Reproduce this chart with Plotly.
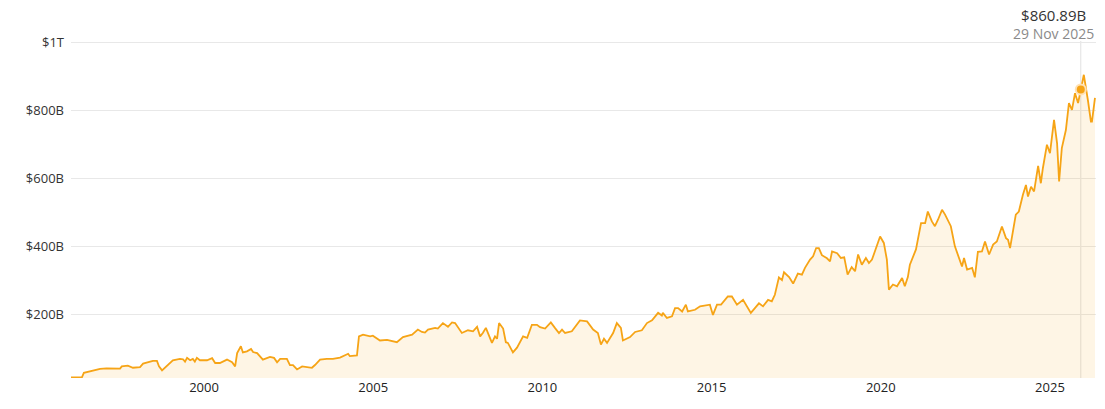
import plotly.graph_objects as go

# Decimal years and market cap (billions USD)
years = [
    1996.07, 1996.39, 1996.45, 1996.83, 1996.93, 1997.12, 1997.31, 1997.52, 1997.57, 1997.75,
    1997.90, 1998.11, 1998.20, 1998.35, 1998.49, 1998.61, 1998.67, 1998.76, 1998.91, 1999.08,
    1999.29, 1999.38, 1999.44, 1999.50, 1999.59, 1999.67, 1999.73, 1999.79, 1999.88, 2000.09,
    2000.24, 2000.33, 2000.47, 2000.68, 2000.83, 2000.92, 2000.98, 2001.09, 2001.15, 2001.27,
    2001.39, 2001.45, 2001.57, 2001.74, 2001.95, 2002.07, 2002.16, 2002.25, 2002.45, 2002.54,
    2002.63, 2002.75, 2002.90, 2003.04, 2003.19, 2003.28, 2003.43, 2003.63, 2003.81, 2004.02,
    2004.17, 2004.26, 2004.31, 2004.46, 2004.52, 2004.58, 2004.70, 2004.91, 2004.99, 2005.20,
    2005.41, 2005.70, 2005.88, 2006.15, 2006.32, 2006.44, 2006.53, 2006.62, 2006.83, 2006.91,
    2007.06, 2007.21, 2007.33, 2007.42, 2007.62, 2007.80, 2007.95, 2008.07, 2008.16, 2008.24,
    2008.33, 2008.51, 2008.60, 2008.66, 2008.72, 2008.84, 2008.92, 2008.98, 2009.13, 2009.25,
    2009.43, 2009.55, 2009.69, 2009.84, 2009.93, 2010.08, 2010.25, 2010.37, 2010.49, 2010.58,
    2010.67, 2010.87, 2011.11, 2011.32, 2011.50, 2011.64, 2011.73, 2011.82, 2011.91, 2012.09,
    2012.20, 2012.32, 2012.38, 2012.59, 2012.74, 2012.94, 2013.09, 2013.24, 2013.33, 2013.42,
    2013.53, 2013.56, 2013.68, 2013.83, 2013.92, 2014.01, 2014.13, 2014.24, 2014.30, 2014.51,
    2014.66, 2014.95, 2015.04, 2015.16, 2015.28, 2015.48, 2015.60, 2015.75, 2015.93, 2016.16,
    2016.28, 2016.40, 2016.52, 2016.67, 2016.78, 2016.87, 2016.99, 2017.08, 2017.14, 2017.29,
    2017.41, 2017.55, 2017.67, 2017.76, 2017.91, 2018.00, 2018.09, 2018.17, 2018.26, 2018.41,
    2018.50, 2018.56, 2018.71, 2018.82, 2018.92, 2019.02, 2019.14, 2019.24, 2019.33, 2019.44,
    2019.56, 2019.65, 2019.74, 2019.98, 2020.09, 2020.18, 2020.24, 2020.36, 2020.48, 2020.63,
    2020.71, 2020.80, 2020.86, 2020.95, 2021.04, 2021.10, 2021.19, 2021.31, 2021.39, 2021.51,
    2021.60, 2021.69, 2021.81, 2021.90, 2021.99, 2022.07, 2022.19, 2022.28, 2022.40, 2022.46,
    2022.55, 2022.70, 2022.78, 2022.87, 2022.99, 2023.08, 2023.20, 2023.32, 2023.43, 2023.58,
    2023.70, 2023.76, 2023.82, 2023.99, 2024.08, 2024.20, 2024.29, 2024.35, 2024.44, 2024.53,
    2024.65, 2024.73, 2024.79, 2024.91, 2025.00, 2025.12, 2025.21, 2025.27, 2025.35, 2025.47,
    2025.56, 2025.65, 2025.74, 2025.83, 2025.91, 2026.00, 2026.12, 2026.21, 2026.24, 2026.33,
]
market_cap_b = [
    16.5, 16.5, 30, 40, 41.6, 43, 42, 42.5, 49, 51,
    45, 47, 57, 61, 65, 65, 49, 37.5, 51, 67,
    71, 70, 63, 74, 67, 71, 63, 74, 67, 67,
    73, 59, 59, 69, 61, 49, 88, 108, 90, 93,
    100, 91, 88, 69, 77, 74, 61, 71, 71, 53,
    53, 40, 49, 46, 45, 53, 69, 71, 71, 75,
    83, 86, 79, 79, 81, 137, 142, 137, 139, 125,
    127, 120, 135, 142, 157, 150, 148, 157, 162, 160,
    176, 165, 178, 176, 147, 155, 152, 165, 137, 147,
    162, 118, 137, 130, 176, 160, 120, 118, 90, 104,
    137, 133, 171, 171, 164, 160, 178, 162, 147, 157,
    147, 152, 184, 181, 157, 147, 113, 130, 118, 147,
    176, 162, 125, 135, 150, 155, 176, 184, 196, 206,
    198, 206, 191, 196, 220, 220, 210, 230, 210, 215,
    225, 230, 200, 230, 230, 254, 254, 230, 244, 206,
    220, 234, 225, 244, 240, 259, 310, 302, 325, 311,
    292, 321, 318, 338, 362, 372, 396, 396, 375, 366,
    357, 386, 381, 367, 369, 318, 340, 328, 377, 347,
    367, 352, 362, 430, 411, 362, 274, 289, 284, 308,
    284, 311, 347, 367, 392, 423, 469, 469, 503, 474,
    460, 479, 508, 494, 474, 460, 401, 377, 342, 367,
    333, 338, 310, 385, 386, 415, 377, 406, 415, 459,
    425, 420, 396, 494, 503, 552, 581, 547, 576, 562,
    637, 586, 630, 699, 674, 772, 703, 591, 689, 742,
    821, 801, 850, 821, 860.89, 904, 830, 767, 767, 836,
]

y_tick_vals = [200, 400, 600, 800, 1000]
y_tick_text = ["$200B", "$400B", "$600B", "$800B", "$1T"]
x_tick_vals = [2000, 2005, 2010, 2015, 2020, 2025]
x_tick_text = ["2000", "2005", "2010", "2015", "2020", "2025"]

hover_year = 2025.91
hover_value = 860.89
hover_value_text = "$860.89B"
hover_date_text = "29 Nov 2025"

LINE = "#F6A416"
FONT = "Open Sans, Noto Sans, sans-serif"

fig = go.Figure()
fig.add_trace(go.Scatter(
    x=years, y=market_cap_b, mode="lines",
    line=dict(color=LINE, width=1.8),
    fill="tozeroy", fillcolor="rgba(246,164,22,0.11)",
    hoverinfo="skip",
))
fig.add_trace(go.Scatter(
    x=[hover_year], y=[hover_value], mode="markers",
    marker=dict(color=LINE, size=10, line=dict(color="rgba(255,225,180,1)", width=2)),
    hoverinfo="skip",
))

fig.add_shape(type="line", xref="x", yref="paper", x0=hover_year, x1=hover_year,
              y0=0, y1=1, line=dict(color="#e2e2e2", width=1), layer="below")

label_html = (
    f"<span style='font-size:15px;color:#333333'>{hover_value_text}</span><br>"
    f"<span style='font-size:14px;color:#8a8a8a'>{hover_date_text}</span>"
)
fig.add_annotation(xref="paper", yref="paper", x=0.959, y=1.05, text=label_html,
                   showarrow=False, xanchor="center", yanchor="middle", align="center",
                   font=dict(family=FONT, size=13.5, color="#333333"))

fig.update_layout(
    width=1105, height=409,
    margin=dict(l=71, r=9, t=41, b=31, autoexpand=False),
    paper_bgcolor="white", plot_bgcolor="white",
    showlegend=False,
    hovermode=False,
    font=dict(family=FONT, size=13, color="#333333"),
    xaxis=dict(range=[1996.07, 2026.36], tickvals=x_tick_vals, ticktext=x_tick_text,
               showgrid=False, zeroline=False, showline=False, ticks="",
               automargin=False, tickfont=dict(size=13, color="#222222")),
    yaxis=dict(range=[15, 1003], tickvals=y_tick_vals, ticktext=y_tick_text,
               showgrid=True, gridcolor="#e8e8e8", gridwidth=1, zeroline=False,
               showline=False, ticks="", ticklabelstandoff=6, automargin=False,
               tickfont=dict(size=13, color="#333333")),
)

fig.write_html(
    "out.html",
    config={"displayModeBar": False},
    post_script="document.body.style.margin='0';document.body.style.overflow='hidden';",
)
